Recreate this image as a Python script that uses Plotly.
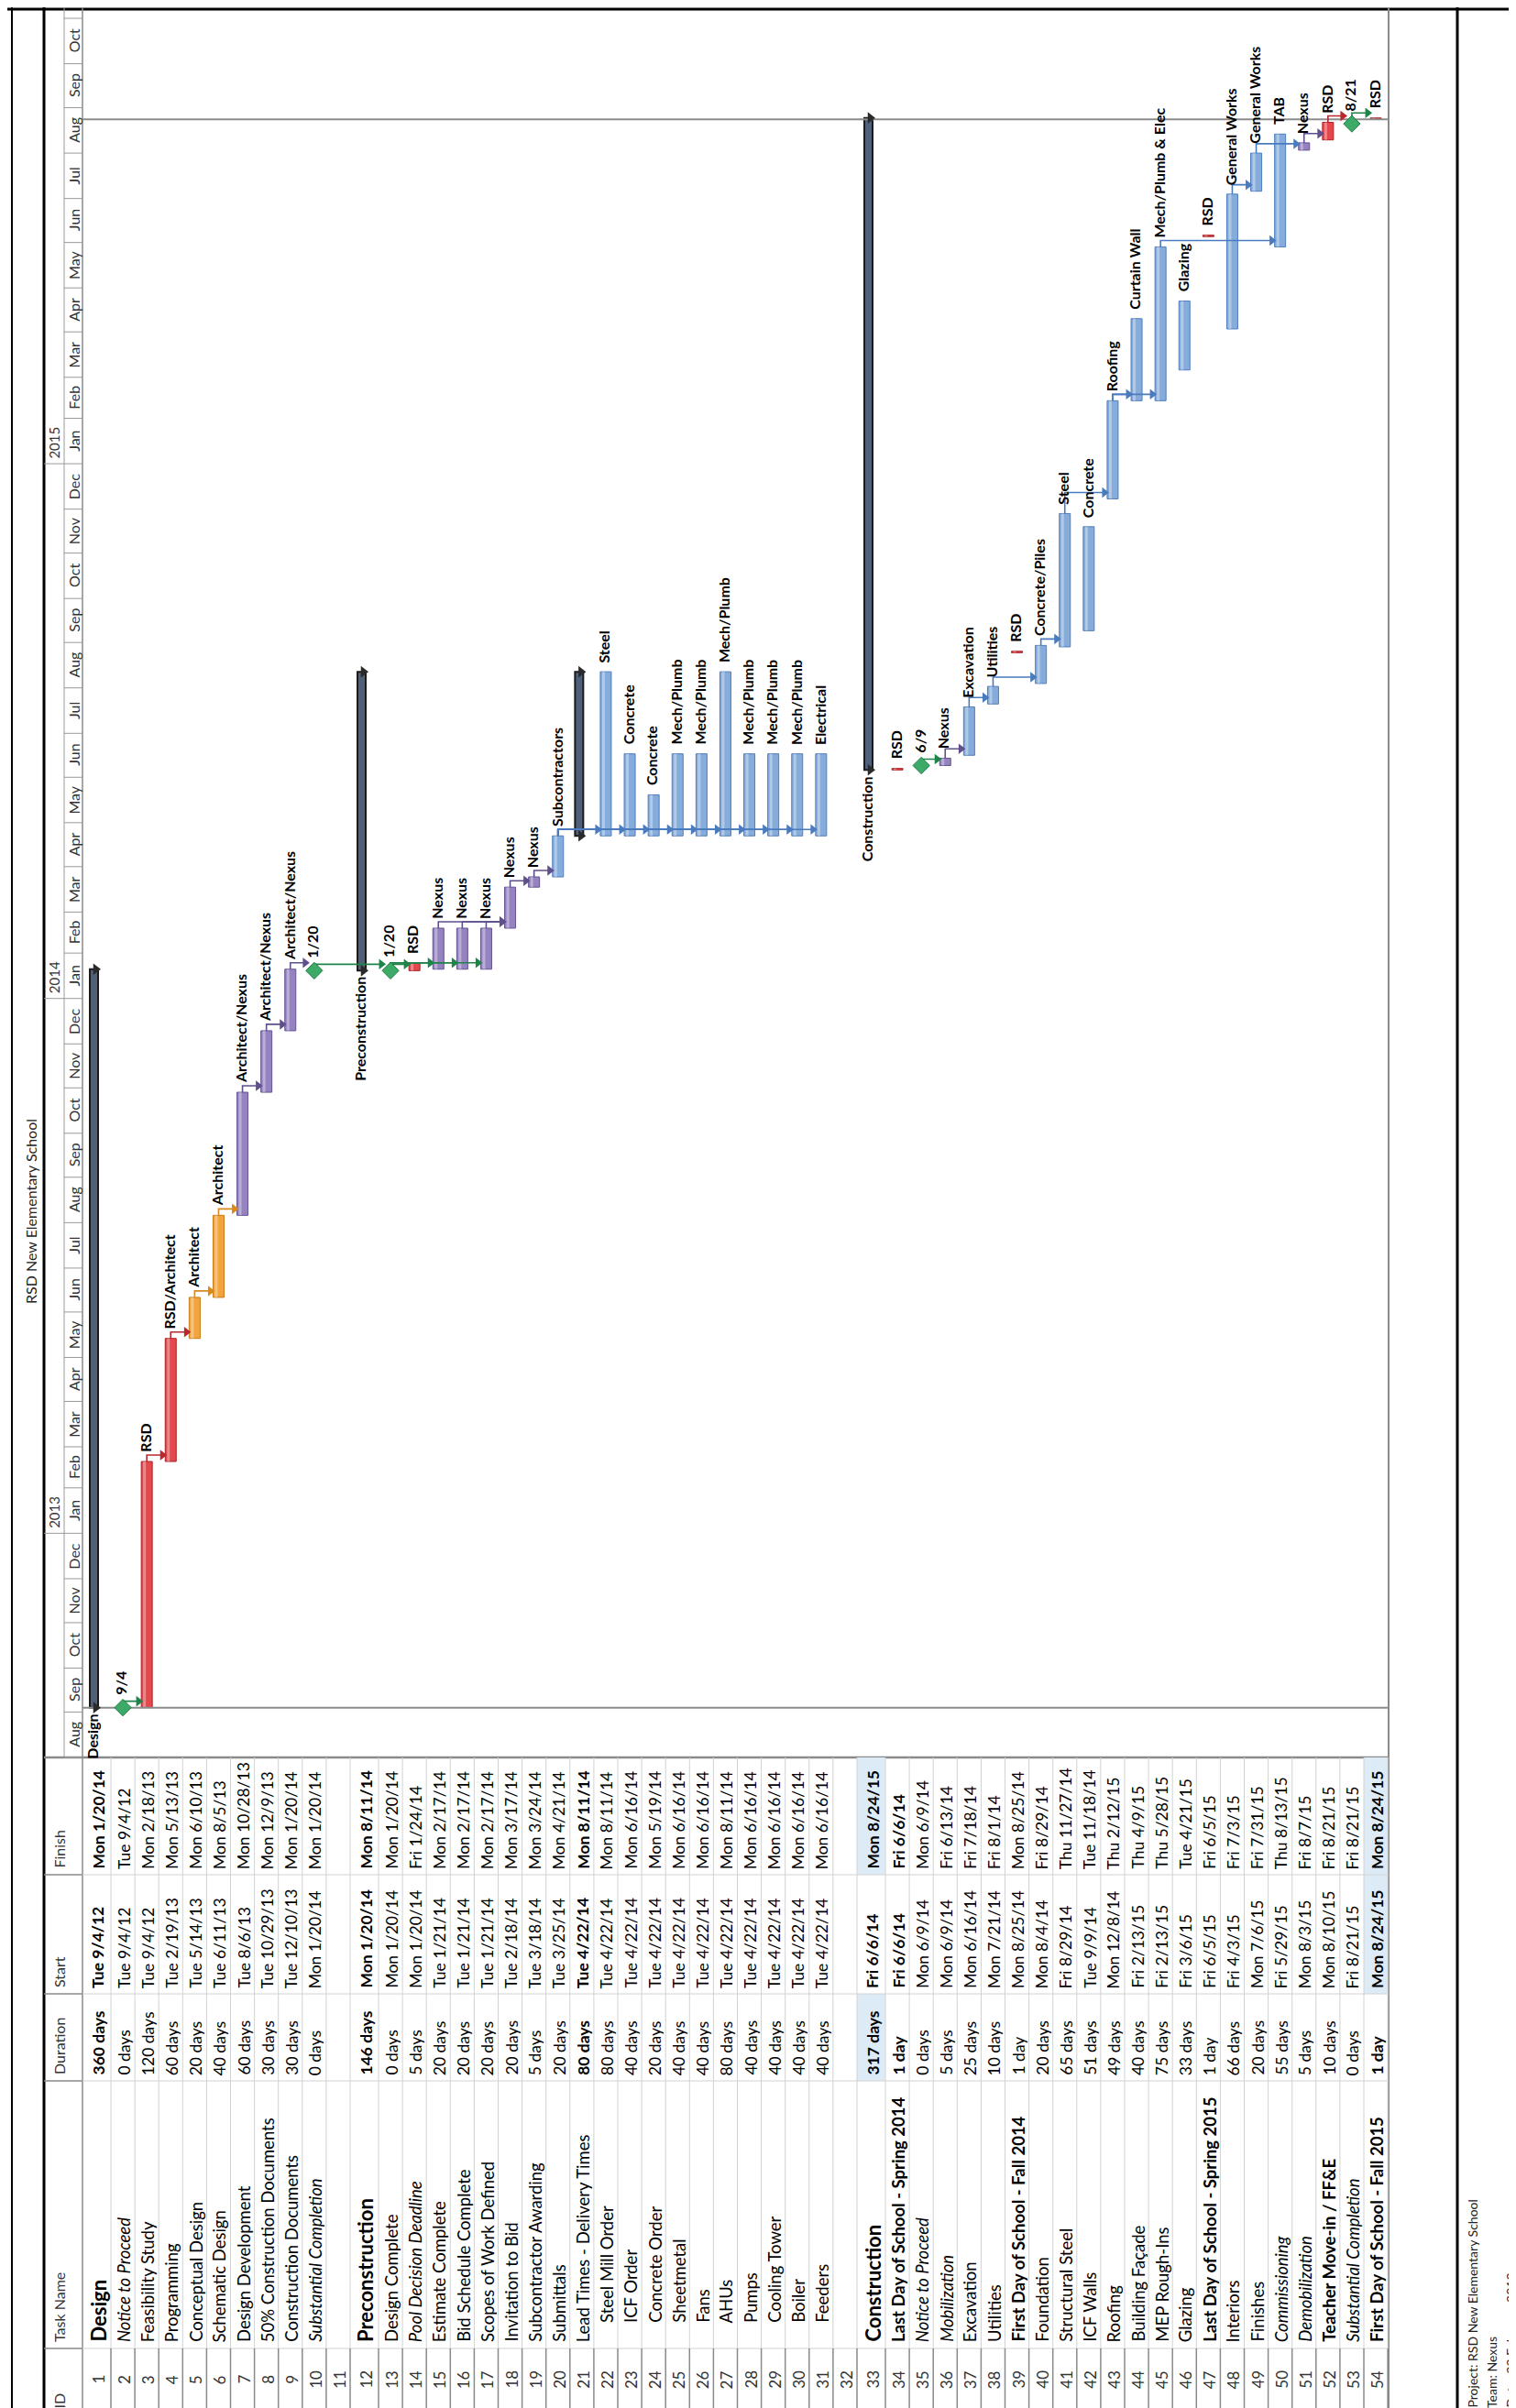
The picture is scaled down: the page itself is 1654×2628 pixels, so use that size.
import plotly.graph_objects as go
import pandas as pd
from datetime import datetime, timedelta

W, H = 1654, 2628
FONT = "Lato"

# ---------------- data ----------------
task_ids = list(range(1, 55))
task_names = [
    "Design", "Notice to Proceed", "Feasibility Study", "Programming", "Conceptual Design",
    "Schematic Design", "Design Development", "50% Construction Documents", "Construction Documents",
    "Substantial Completion", "",
    "Preconstruction", "Design Complete", "Pool Decision Deadline", "Estimate Complete",
    "Bid Schedule Complete", "Scopes of Work Defined", "Invitation to Bid", "Subcontractor Awarding",
    "Submittals",
    "Lead Times - Delivery Times", "Steel Mill Order", "ICF Order", "Concrete Order", "Sheetmetal",
    "Fans", "AHUs", "Pumps", "Cooling Tower", "Boiler", "Feeders", "",
    "Construction", "Last Day of School - Spring 2014", "Notice to Proceed", "Mobilization",
    "Excavation", "Utilities", "First Day of School - Fall 2014", "Foundation", "Structural Steel",
    "ICF Walls", "Roofing", "Building Façade", "MEP Rough-Ins", "Glazing",
    "Last Day of School - Spring 2015", "Interiors", "Finishes", "Commissioning", "Demobilization",
    "Teacher Move-in / FF&E", "Substantial Completion", "First Day of School - Fall 2015",
]
durations = [
    "360 days", "0 days", "120 days", "60 days", "20 days", "40 days", "60 days", "30 days", "30 days",
    "0 days", "",
    "146 days", "0 days", "5 days", "20 days", "20 days", "20 days", "20 days", "5 days", "20 days",
    "80 days", "80 days", "40 days", "20 days", "40 days", "40 days", "80 days", "40 days", "40 days",
    "40 days", "40 days", "",
    "317 days", "1 day", "0 days", "5 days", "25 days", "10 days", "1 day", "20 days", "65 days",
    "51 days", "49 days", "40 days", "75 days", "33 days", "1 day", "66 days", "20 days", "55 days",
    "5 days", "10 days", "0 days", "1 day",
]
starts = [
    "Tue 9/4/12", "Tue 9/4/12", "Tue 9/4/12", "Tue 2/19/13", "Tue 5/14/13", "Tue 6/11/13", "Tue 8/6/13",
    "Tue 10/29/13", "Tue 12/10/13", "Mon 1/20/14", "",
    "Mon 1/20/14", "Mon 1/20/14", "Mon 1/20/14", "Tue 1/21/14", "Tue 1/21/14", "Tue 1/21/14",
    "Tue 2/18/14", "Tue 3/18/14", "Tue 3/25/14",
    "Tue 4/22/14", "Tue 4/22/14", "Tue 4/22/14", "Tue 4/22/14", "Tue 4/22/14", "Tue 4/22/14",
    "Tue 4/22/14", "Tue 4/22/14", "Tue 4/22/14", "Tue 4/22/14", "Tue 4/22/14", "",
    "Fri 6/6/14", "Fri 6/6/14", "Mon 6/9/14", "Mon 6/9/14", "Mon 6/16/14", "Mon 7/21/14",
    "Mon 8/25/14", "Mon 8/4/14", "Fri 8/29/14", "Tue 9/9/14", "Mon 12/8/14", "Fri 2/13/15",
    "Fri 2/13/15", "Fri 3/6/15", "Fri 6/5/15", "Fri 4/3/15", "Mon 7/6/15", "Fri 5/29/15",
    "Mon 8/3/15", "Mon 8/10/15", "Fri 8/21/15", "Mon 8/24/15",
]
finishes = [
    "Mon 1/20/14", "Tue 9/4/12", "Mon 2/18/13", "Mon 5/13/13", "Mon 6/10/13", "Mon 8/5/13",
    "Mon 10/28/13", "Mon 12/9/13", "Mon 1/20/14", "Mon 1/20/14", "",
    "Mon 8/11/14", "Mon 1/20/14", "Fri 1/24/14", "Mon 2/17/14", "Mon 2/17/14", "Mon 2/17/14",
    "Mon 3/17/14", "Mon 3/24/14", "Mon 4/21/14",
    "Mon 8/11/14", "Mon 8/11/14", "Mon 6/16/14", "Mon 5/19/14", "Mon 6/16/14", "Mon 6/16/14",
    "Mon 8/11/14", "Mon 6/16/14", "Mon 6/16/14", "Mon 6/16/14", "Mon 6/16/14", "",
    "Mon 8/24/15", "Fri 6/6/14", "Mon 6/9/14", "Fri 6/13/14", "Fri 7/18/14", "Fri 8/1/14",
    "Mon 8/25/14", "Fri 8/29/14", "Thu 11/27/14", "Tue 11/18/14", "Thu 2/12/15", "Thu 4/9/15",
    "Thu 5/28/15", "Tue 4/21/15", "Fri 6/5/15", "Fri 7/3/15", "Fri 7/31/15", "Thu 8/13/15",
    "Fri 8/7/15", "Fri 8/21/15", "Fri 8/21/15", "Mon 8/24/15",
]
bar_labels = [
    "Design", "9/4", "RSD", "RSD/Architect", "Architect", "Architect", "Architect/Nexus",
    "Architect/Nexus", "Architect/Nexus", "1/20", "",
    "Preconstruction", "1/20", "RSD", "Nexus", "Nexus", "Nexus", "Nexus", "Nexus", "Subcontractors",
    "", "Steel", "Concrete", "Concrete", "Mech/Plumb", "Mech/Plumb", "Mech/Plumb", "Mech/Plumb",
    "Mech/Plumb", "Mech/Plumb", "Electrical", "",
    "Construction", "RSD", "6/9", "Nexus", "Excavation", "Utilities", "RSD", "Concrete/Piles", "Steel",
    "Concrete", "Roofing", "Curtain Wall", "Mech/Plumb & Elec", "Glazing", "RSD", "General Works",
    "General Works", "TAB", "Nexus", "RSD", "8/21", "RSD",
]
summary_rows = [1, 12, 21, 33]
milestone_rows = [2, 10, 13, 35, 53]
big_rows = [1, 12, 33]
bold_name_rows = [34, 39, 47, 52, 54]
italic_rows = [2, 10, 14, 35, 36, 50, 51, 53]
indent_rows = list(range(22, 32))
bold_data_rows = [1, 12, 21, 33, 34, 54]

links = [(2, 3), (3, 4), (4, 5), (5, 6), (6, 7), (7, 8), (8, 9), (9, 10), (10, 13),
         (13, 14), (13, 15), (13, 16), (13, 17), (15, 18), (16, 18), (17, 18), (18, 19), (19, 20),
         (20, 22), (20, 23), (20, 24), (20, 25), (20, 26), (20, 27), (20, 28), (20, 29), (20, 30),
         (20, 31),
         (35, 36), (36, 37), (37, 38), (38, 40), (40, 41), (41, 43), (43, 44), (43, 45), (45, 50),
         (48, 49), (49, 51), (51, 52), (52, 53), (53, 54)]

title_text = "RSD New Elementary School"
footer_lines = ["Project: RSD New Elementary School", "Team: Nexus", "Date: 22 February 2013"]
headers = ["ID", "Task Name", "Duration", "Start", "Finish"]

# ---------------- styles ----------------
PAL = {
    "red": ("#E4474C", "#A92328", "#B8282D"),
    "orange": ("#F3A43C", "#C77A14", "#D98A1E"),
    "purple": ("#9583C0", "#62528F", "#5F4F8C"),
    "blue": ("#86ACDB", "#4F7DBD", "#4A7BBE"),
    "green": ("#3DAA68", "#1F7A43", "#1E8449"),
}


def color_key(i):
    lab = bar_labels[i - 1]
    if i in milestone_rows:
        return "green"
    if lab.startswith("RSD"):
        return "red"
    if lab == "Architect":
        return "orange"
    if "Nexus" in lab:
        return "purple"
    return "blue"


def parse(s):
    return datetime.strptime(s.split()[1], "%m/%d/%y")


# ---------------- geometry ----------------
D0 = datetime(2012, 8, 1)
PPD = 1.599          # pixels per day
CH_BOT, CH_TOP = 1910, 3
D1 = D0 + timedelta(days=(CH_BOT - CH_TOP) / PPD)

ROW0 = 82
row_h = [31 if i in big_rows else 26.1 for i in task_ids]
row_lo, row_c = [], []
acc = ROW0
for h in row_h:
    row_lo.append(acc)
    row_c.append(acc + h / 2)
    acc += h

COLS = {"Finish": (1910, 2038), "Start": (2038, 2168), "Duration": (2168, 2263),
        "Task Name": (2263, 2555), "ID": (2555, 2640)}

FS_NAME, FS_DATA, FS_BIG, FS_LAB = 18.5, 17.5, 22, 16


def px(x):
    return x / W


def py(y):
    return 1 - y / H


shapes, annos = [], []


def line(x0, y0, x1, y1, color="#c8c8c8", width=1):
    shapes.append(dict(type="line", xref="paper", yref="paper", x0=px(x0), y0=py(y0),
                       x1=px(x1), y1=py(y1), line=dict(color=color, width=width), layer="below"))


def rect(x0, y0, x1, y1, fill):
    shapes.append(dict(type="rect", xref="paper", yref="paper", x0=px(x0), y0=py(y0),
                       x1=px(x1), y1=py(y1), fillcolor=fill, line=dict(width=0), layer="below"))


def text(x, y, s, size, color="#000", yanchor="bottom", xanchor="center", angle=-90):
    annos.append(dict(x=px(x), y=py(y), xref="paper", yref="paper", text=s, showarrow=False,
                      textangle=angle, xanchor=xanchor, yanchor=yanchor,
                      font=dict(family=FONT, size=size, color=color)))


fig = go.Figure()

# ---------------- frame ----------------
line(5, 0, 5, H, "#000", 2)
line(40, 0, 40, H, "#000", 3)
line(0, 2, W, 2, "#000", 3)
line(1582, 0, 1582, H, "#000", 3)
line(1507, 0, 1507, H, "#8a8a8a", 2)
line(62, 0, 62, CH_BOT, "#9a9a9a", 1)
line(82, 0, 82, H, "#8a8a8a", 1.5)
line(40, CH_BOT, 1507, CH_BOT, "#8a8a8a", 2.5)

text(25, 1314, title_text, 16, "#222", yanchor="middle")
for k, s in enumerate(footer_lines):
    text(1598 + k * 21, 2622, s, 14, "#222")


def yd(d):
    return CH_BOT - (d - D0).days * PPD


# timescale
months = pd.date_range("2012-08-01", "2015-11-01", freq="MS")
for m in months:
    y = yd(m.to_pydatetime())
    if y > CH_TOP:
        line(62, y, 82, y, "#9a9a9a", 1)
    if m.month == 1:
        line(40, y, 62, y, "#9a9a9a", 1)
        text(51, y - 3, str(m.year), 15, "#333")
for a, b in zip(months[:-1], months[1:]):
    ya, yb = yd(a.to_pydatetime()), yd(b.to_pydatetime())
    if yb >= CH_TOP:
        text(72.5, (ya + yb) / 2, a.strftime("%b"), 16, "#333", yanchor="middle")

# ---------------- table ----------------
rect(row_lo[32], COLS["Duration"][0], row_lo[32] + row_h[32], COLS["Duration"][1], "#DDEBF7")
rect(row_lo[32], COLS["Finish"][0], row_lo[32] + row_h[32], COLS["Finish"][1], "#DDEBF7")
rect(row_lo[53], COLS["Start"][0], row_lo[53] + row_h[53], COLS["Start"][1], "#DDEBF7")
rect(row_lo[53], COLS["Finish"][0], row_lo[53] + row_h[53], COLS["Finish"][1], "#DDEBF7")

for name, (a, b) in COLS.items():
    if name != "ID":
        line(40, b, 82, b, "#8a8a8a", 1.5)
        line(82, b, 1507, b, "#d2d2d2", 1)
    text(56, min(b, H) - 5, name, 16, "#333")

for i in task_ids:
    lo = row_lo[i - 1]
    line(lo + row_h[i - 1], CH_BOT, lo + row_h[i - 1], COLS["ID"][0], "#d2d2d2", 1)
    line(lo + row_h[i - 1], COLS["ID"][0], lo + row_h[i - 1], H, "#8a8a8a", 1.5)
    c = row_c[i - 1] + 1
    text(c, 2589, str(i), 17, "#333", yanchor="middle")
    nm = task_names[i - 1]
    if not nm:
        continue
    size = FS_NAME
    s = nm
    if i in big_rows:
        s = "<b>%s</b>" % nm
        size = FS_BIG
    elif i in bold_name_rows:
        s = "<b>%s</b>" % nm
    elif i in italic_rows:
        s = "<i>%s</i>" % nm
    ind = 21 if i in indent_rows else 0
    text(c, COLS["Task Name"][1] - 5 - ind, s, size)
    for col, val in (("Duration", durations[i - 1]), ("Start", starts[i - 1]),
                     ("Finish", finishes[i - 1])):
        v = "<b>%s</b>" % val if i in bold_data_rows else val
        text(c, COLS[col][1] - 4, v, FS_DATA)

# ---------------- chart ----------------
ONE = timedelta(days=1)
start_d = {i: parse(starts[i - 1]) for i in task_ids if starts[i - 1]}
end_d = {}
for i in start_d:
    if i in milestone_rows:
        end_d[i] = start_d[i]
    else:
        end_d[i] = parse(finishes[i - 1]) + ONE

# project start / finish lines
proj_s = min(start_d.values())
proj_f = parse(finishes[32])
for d in (proj_s, proj_f):
    fig.add_trace(go.Scatter(x=[82, 1507], y=[d, d], mode="lines", hoverinfo="skip",
                             line=dict(color="#8c8c8c", width=2), showlegend=False))

# links
OFF = timedelta(days=7 / PPD)
link_xy = {}
head_xy = {}
for p, s in links:
    ck = color_key(p)
    pe = end_d[p]
    ss = start_d[s]
    ay = max(pe, ss) + OFF
    xs = row_c[s - 1] - (7 if s in milestone_rows else 6)
    xp = row_c[p - 1]
    lx, ly = link_xy.setdefault(ck, ([], []))
    lx += [xp, xp, xs - 3, None]
    ly += [pe, ay, ay, None]
    hx, hy = head_xy.setdefault(ck, ([], []))
    hx.append(xs - 3)
    hy.append(ay)
for ck, (lx, ly) in link_xy.items():
    fig.add_trace(go.Scatter(x=lx, y=ly, mode="lines", line=dict(color=PAL[ck][2], width=1.6),
                             hoverinfo="skip", showlegend=False))
for ck, (hx, hy) in head_xy.items():
    fig.add_trace(go.Scatter(x=hx, y=hy, mode="markers", hoverinfo="skip", showlegend=False,
                             marker=dict(symbol="triangle-right", size=10, color=PAL[ck][2])))

# task bars
groups = {}
for i in start_d:
    if i in milestone_rows or i in summary_rows:
        continue
    groups.setdefault(color_key(i), []).append(i)
for ck, rows in groups.items():
    fill, edge, _ = PAL[ck]
    fig.add_trace(go.Bar(
        x=[row_c[i - 1] for i in rows],
        y=[(end_d[i] - start_d[i]).total_seconds() * 1000 for i in rows],
        base=[start_d[i].strftime("%Y-%m-%d") for i in rows],
        width=12, marker=dict(color=fill, line=dict(color=edge, width=1)),
        hoverinfo="skip", showlegend=False))
    fig.add_trace(go.Bar(
        x=[row_c[i - 1] - 2.5 for i in rows],
        y=[(end_d[i] - start_d[i]).total_seconds() * 1000 for i in rows],
        base=[start_d[i].strftime("%Y-%m-%d") for i in rows],
        width=3, marker=dict(color="rgba(255,255,255,0.35)", line=dict(width=0)),
        hoverinfo="skip", showlegend=False))

# summary bars
srows = summary_rows
fig.add_trace(go.Bar(
    x=[row_c[i - 1] - 3 for i in srows],
    y=[(end_d[i] - start_d[i]).total_seconds() * 1000 for i in srows],
    base=[start_d[i].strftime("%Y-%m-%d") for i in srows],
    width=9, marker=dict(color="#50607A", line=dict(color="#1b1b1b", width=2)),
    hoverinfo="skip", showlegend=False))
fig.add_trace(go.Scatter(
    x=[row_c[i - 1] - 1 for i in srows] * 2,
    y=[start_d[i] for i in srows] + [end_d[i] for i in srows],
    mode="markers", hoverinfo="skip", showlegend=False, cliponaxis=False,
    marker=dict(symbol="triangle-right", size=11, color="#2a2a2a")))

# milestones
fig.add_trace(go.Scatter(
    x=[row_c[i - 1] for i in milestone_rows], y=[start_d[i] for i in milestone_rows],
    mode="markers", hoverinfo="skip", showlegend=False, cliponaxis=False,
    marker=dict(symbol="diamond", size=14, color=PAL["green"][0],
                line=dict(color=PAL["green"][1], width=1))))

# bar labels
for i in start_d:
    lab = bar_labels[i - 1]
    if not lab:
        continue
    if i in summary_rows:
        annos.append(dict(x=row_c[i - 1] - 5, y=start_d[i], xref="x", yref="y", text="<b>%s</b>" % lab,
                          showarrow=False, textangle=-90, xanchor="center", yanchor="top", yshift=-5,
                          font=dict(family=FONT, size=FS_LAB, color="#000")))
    else:
        annos.append(dict(x=row_c[i - 1] - 2, y=end_d[i], xref="x", yref="y", text="<b>%s</b>" % lab,
                          showarrow=False, textangle=-90, xanchor="center", yanchor="bottom",
                          yshift=12 if i in milestone_rows else 8,
                          font=dict(family=FONT, size=FS_LAB, color="#000")))

fig.update_layout(
    width=W, height=H, margin=dict(l=0, r=0, t=0, b=0),
    paper_bgcolor="white", plot_bgcolor="rgba(0,0,0,0)",
    barmode="overlay", showlegend=False,
    xaxis=dict(range=[0, W], domain=[0, 1], visible=False, fixedrange=True),
    yaxis=dict(type="date", range=[D0.strftime("%Y-%m-%d"), D1.strftime("%Y-%m-%d %H:%M")],
               domain=[(H - CH_BOT) / H, (H - CH_TOP) / H], visible=False, fixedrange=True),
    shapes=shapes, annotations=annos,
)
fig.write_html("out.html")
